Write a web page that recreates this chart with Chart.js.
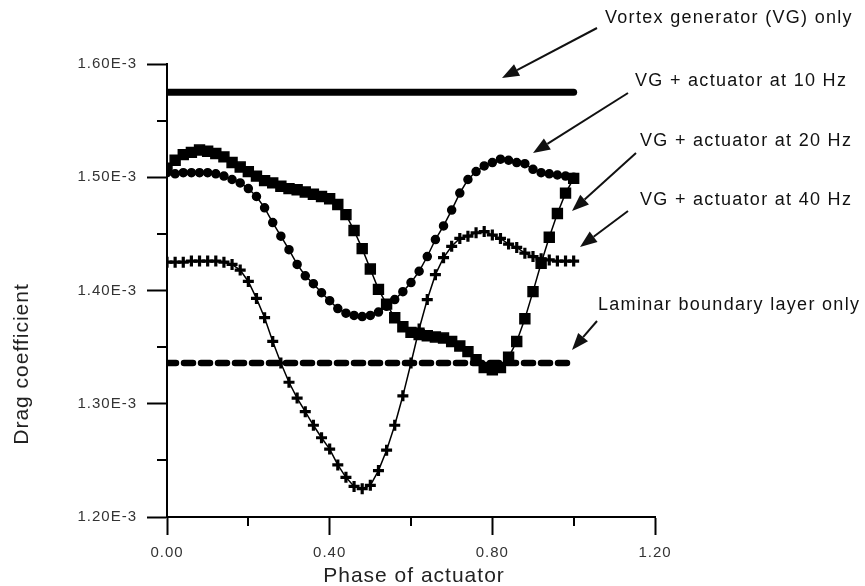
<!DOCTYPE html>
<html>
<head>
<meta charset="utf-8">
<script src="https://cdn.jsdelivr.net/npm/chart.js@4.4.0/dist/chart.umd.min.js"></script>
<style>
    body { margin: 0; background: #fff; }
    #wrap { width: 865px; height: 586px; }
</style>
</head>
<body>
<div id="wrap"><canvas id="dragchart"></canvas></div>
<script>
//Phase of actuator (x) for every measured point
const phase = [0.00, 0.02, 0.04, 0.06, 0.08, 0.10, 0.12, 0.14, 0.16, 0.18,
    0.20, 0.22, 0.24, 0.26, 0.28, 0.30, 0.32, 0.34, 0.36, 0.38,
    0.40, 0.42, 0.44, 0.46, 0.48, 0.50, 0.52, 0.54, 0.56, 0.58,
    0.60, 0.62, 0.64, 0.66, 0.68, 0.70, 0.72, 0.74, 0.76, 0.78,
    0.80, 0.82, 0.84, 0.86, 0.88, 0.90, 0.92, 0.94, 0.96, 0.98, 1.00];

//Drag coefficient values, in units of 1E-3
const vgPhase = [0.00, 1.00];
const vgOnly = [1.575, 1.575];
const laminarPhase = [0.00, 0.99];
const laminarOnly = [1.336, 1.336];
const hz10 = [1.504, 1.503, 1.504, 1.504, 1.504, 1.504, 1.503, 1.501, 1.498, 1.495,
    1.490, 1.483, 1.473, 1.460, 1.448, 1.436, 1.423, 1.413, 1.406, 1.398,
    1.391, 1.384, 1.380, 1.378, 1.377, 1.378, 1.381, 1.386, 1.392, 1.399,
    1.407, 1.417, 1.430, 1.445, 1.457, 1.471, 1.486, 1.498, 1.505, 1.510,
    1.513, 1.516, 1.515, 1.513, 1.512, 1.507, 1.504, 1.503, 1.502, 1.501, 1.500];
const hz20 = [1.508, 1.515, 1.520, 1.522, 1.524, 1.523, 1.521, 1.518, 1.513, 1.509,
    1.505, 1.501, 1.497, 1.495, 1.492, 1.490, 1.489, 1.487, 1.485, 1.483,
    1.481, 1.476, 1.467, 1.453, 1.437, 1.419, 1.401, 1.388, 1.376, 1.368,
    1.363, 1.361, 1.360, 1.359, 1.358, 1.355, 1.351, 1.346, 1.339, 1.332,
    1.330, 1.332, 1.341, 1.355, 1.375, 1.399, 1.424, 1.447, 1.468, 1.486, 1.499];
const hz40 = [1.425, 1.425, 1.425, 1.426, 1.426, 1.426, 1.426, 1.425, 1.423, 1.418,
    1.408, 1.393, 1.376, 1.355, 1.336, 1.319, 1.305, 1.293, 1.281, 1.270,
    1.260, 1.246, 1.235, 1.227, 1.225, 1.228, 1.241, 1.259, 1.281, 1.307,
    1.336, 1.366, 1.392, 1.414, 1.429, 1.439, 1.446, 1.448, 1.451, 1.452,
    1.449, 1.446, 1.441, 1.438, 1.433, 1.430, 1.428, 1.427, 1.426, 1.426, 1.426];

//Axis ticks
const xMinorTicks = [0.2, 0.6, 1.0];
const yMinorTicks = [1.25, 1.35, 1.45, 1.55];

//Annotation texts, top to bottom
const notes = ['Vortex generator (VG) only', 'VG + actuator at 10 Hz', 'VG + actuator at 20 Hz',
    'VG + actuator at 40 Hz', 'Laminar boundary layer only'];

const toPoints = (xs, ys) => xs.map((x, i) => ({ x: x, y: ys[i] }));
const FONT = '"Liberation Sans", Arial, sans-serif';

//Layout of annotation text and arrows (pixels)
const notePlaces = [
    { tx: 605, ty: 23, tail: [597, 28], tip: [502, 78] },
    { tx: 635, ty: 86, tail: [628, 93], tip: [533, 153] },
    { tx: 640, ty: 146, tail: [636, 153], tip: [572, 211] },
    { tx: 640, ty: 205, tail: [628, 211], tip: [580, 247] },
    { tx: 598, ty: 310, tail: [597, 321], tip: [572, 350] }
];

function drawArrow(ctx, tail, tip) {
    const ang = Math.atan2(tip[1] - tail[1], tip[0] - tail[0]);
    const len = 17, half = 6.5;
    const bx = tip[0] - len * Math.cos(ang), by = tip[1] - len * Math.sin(ang);
    ctx.beginPath();
    ctx.moveTo(tail[0], tail[1]);
    ctx.lineTo(bx, by);
    ctx.lineWidth = 2;
    ctx.stroke();
    ctx.beginPath();
    ctx.moveTo(tip[0], tip[1]);
    ctx.lineTo(bx + half * Math.sin(ang), by - half * Math.cos(ang));
    ctx.lineTo(bx - half * Math.sin(ang), by + half * Math.cos(ang));
    ctx.closePath();
    ctx.fill();
}

const extras = {
    id: 'extras',
    beforeDraw(chart) {
        chart.ctx.letterSpacing = '1px';
    },
    afterDraw(chart) {
        const ctx = chart.ctx;
        const xs = chart.scales.x, ys = chart.scales.y;
        const area = chart.chartArea;
        ctx.save();
        //minor ticks
        ctx.strokeStyle = '#000';
        ctx.lineWidth = 2;
        xMinorTicks.forEach(v => {
            const px = Math.round(xs.getPixelForValue(v));
            ctx.beginPath();
            ctx.moveTo(px, area.bottom);
            ctx.lineTo(px, area.bottom + 9);
            ctx.stroke();
        });
        yMinorTicks.forEach(v => {
            const py = Math.round(ys.getPixelForValue(v));
            ctx.beginPath();
            ctx.moveTo(area.left - 10, py);
            ctx.lineTo(area.left, py);
            ctx.stroke();
        });
        //axis titles
        ctx.fillStyle = '#222';
        ctx.font = '21px ' + FONT;
        ctx.letterSpacing = '1px';
        ctx.textAlign = 'center';
        ctx.textBaseline = 'alphabetic';
        ctx.fillText('Phase of actuator', 414, 582);
        ctx.save();
        ctx.translate(28, 364);
        ctx.rotate(-Math.PI / 2);
        ctx.fillText('Drag coefficient', 0, 0);
        ctx.restore();
        //annotations
        ctx.font = '18px ' + FONT;
        ctx.letterSpacing = '1.3px';
        ctx.textAlign = 'left';
        ctx.fillStyle = '#111';
        ctx.strokeStyle = '#111';
        notes.forEach((t, i) => {
            const p = notePlaces[i];
            ctx.fillText(t, p.tx, p.ty);
            drawArrow(ctx, p.tail, p.tip);
        });
        ctx.restore();
    }
};

const lineStyle = {
    borderColor: '#000',
    backgroundColor: '#000',
    pointBorderColor: '#000',
    pointBackgroundColor: '#000',
    borderWidth: 1.5,
    tension: 0,
    fill: false
};

const dragChart = new Chart(
    document.getElementById('dragchart'),
    {
        type: 'line',
        data: {
            datasets: [
                Object.assign({}, lineStyle, {
                    label: 'Vortex generator (VG) only',
                    data: toPoints(vgPhase, vgOnly),
                    borderWidth: 7,
                    borderCapStyle: 'round',
                    pointRadius: 0
                }),
                Object.assign({}, lineStyle, {
                    label: 'Laminar boundary layer only',
                    data: toPoints(laminarPhase, laminarOnly),
                    borderWidth: 6.5,
                    borderCapStyle: 'round',
                    borderDash: [9, 8],
                    pointRadius: 0
                }),
                Object.assign({}, lineStyle, {
                    label: 'VG + actuator at 10 Hz',
                    data: toPoints(phase, hz10),
                    pointStyle: 'circle',
                    pointRadius: 4
                }),
                Object.assign({}, lineStyle, {
                    label: 'VG + actuator at 20 Hz',
                    data: toPoints(phase, hz20),
                    pointStyle: 'rect',
                    pointRadius: 7
                }),
                Object.assign({}, lineStyle, {
                    label: 'VG + actuator at 40 Hz',
                    data: toPoints(phase, hz40),
                    pointStyle: 'cross',
                    pointRadius: 5.5,
                    pointBorderWidth: 3.2
                })
            ]
        },
        options: {
            responsive: true,
            maintainAspectRatio: false,
            animation: false,
            layout: {
                padding: { top: 64, right: 210, left: 0, bottom: 0 }
            },
            scales: {
                x: {
                    type: 'linear',
                    min: 0,
                    max: 1.2,
                    afterFit: scale => { scale.height = 69; },
                    border: { display: true, color: '#000', width: 2 },
                    grid: {
                        drawOnChartArea: false,
                        drawTicks: true,
                        tickLength: 18,
                        tickWidth: 2,
                        tickColor: '#000'
                    },
                    ticks: {
                        stepSize: 0.4,
                        padding: 9,
                        color: '#333',
                        font: { size: 15, family: FONT },
                        maxRotation: 0,
                        callback: v => v.toFixed(2)
                    }
                },
                y: {
                    min: 1.2,
                    max: 1.6,
                    afterFit: scale => { scale.width = 167; },
                    border: { display: true, color: '#000', width: 2 },
                    grid: {
                        drawOnChartArea: false,
                        drawTicks: true,
                        tickLength: 20,
                        tickWidth: 2,
                        tickColor: '#000'
                    },
                    ticks: {
                        stepSize: 0.1,
                        padding: 10,
                        color: '#333',
                        font: { size: 15, family: FONT },
                        callback: v => v.toFixed(2) + 'E-3'
                    }
                }
            },
            plugins: {
                legend: { display: false },
                tooltip: { enabled: false }
            }
        },
        plugins: [extras]
    }
);
</script>
</body>
</html>
